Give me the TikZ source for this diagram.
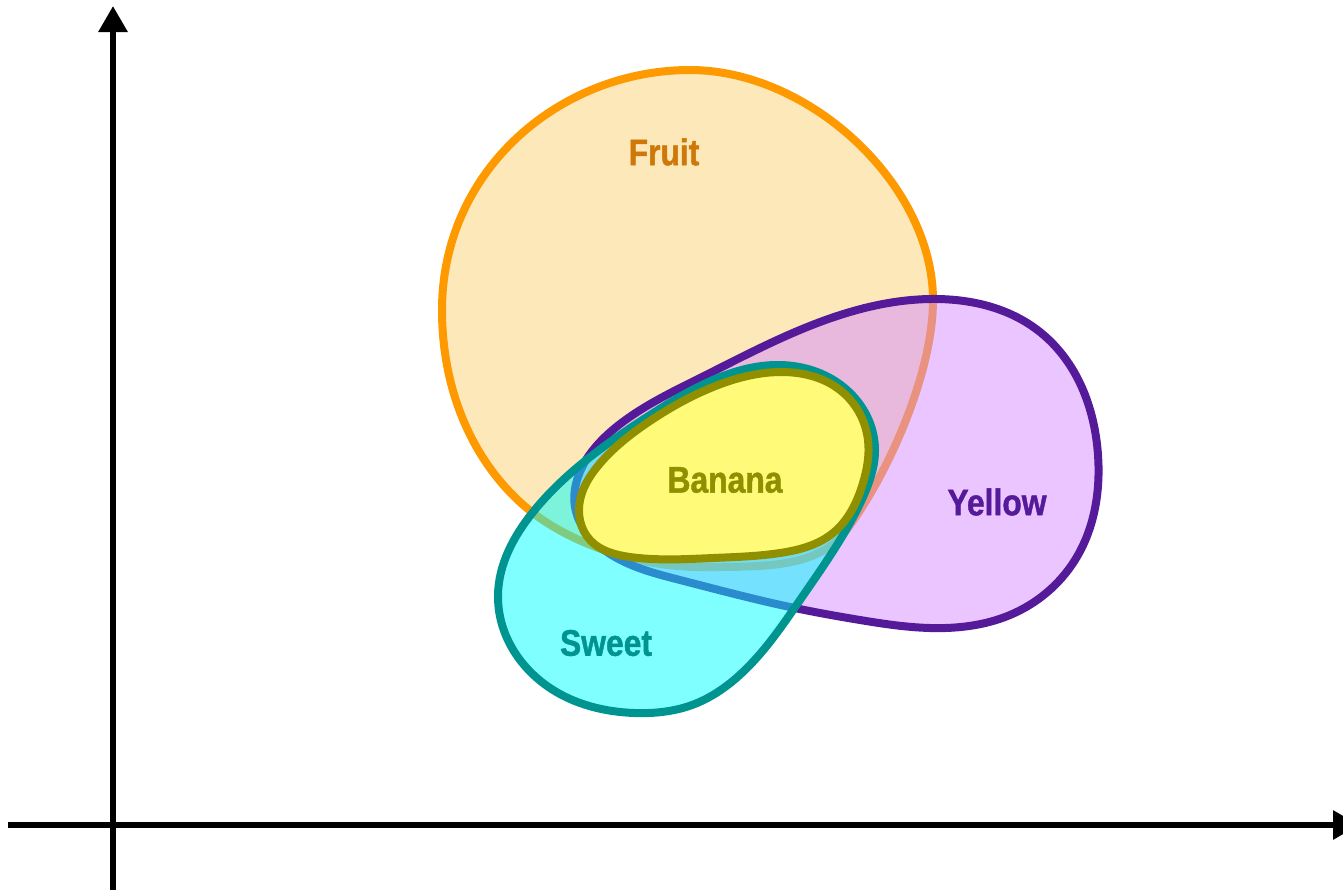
\documentclass[tikz,border=0pt]{standalone}
\usepackage{fontspec}
\setmainfont{Liberation Sans}
\newfontfamily\lblfont[FakeBold=1.3]{Liberation Sans Bold}
\usetikzlibrary{arrows.meta,hobby}
\definecolor{fruitfill}{RGB}{253,232,186}
\definecolor{fruitline}{RGB}{255,153,0}
\definecolor{fruittext}{RGB}{206,120,8}
\definecolor{yelfill}{RGB}{213,140,255}
\definecolor{yelline}{RGB}{85,26,153}
\definecolor{sweetfill}{RGB}{0,255,255}
\definecolor{sweetline}{RGB}{0,148,144}
\definecolor{banfill}{RGB}{255,250,120}
\definecolor{banline}{RGB}{143,143,0}
\begin{document}
\begin{tikzpicture}[x=0.5pt,y=-0.5pt,
  outline/.style={line width=4pt,line join=round},
  blob/.style={outline,use Hobby shortcut,closed=true},
  lbl/.style={font=\fontsize{18.5}{20}\lblfont,inner sep=0pt},
  axis/.style={line width=3pt,-{Triangle[length=13pt,width=14pt]}}]
\useasboundingbox (0,0) rectangle (1343,890);
% axes
\coordinate (ybot) at (113,890);
\coordinate (ytop) at (113,6);
\coordinate (xleft) at (8,825);
\coordinate (xright) at (1359,825);
\draw[axis] (ybot) -- (ytop);
\draw[axis] (xleft) -- (xright);
% Fruit
\draw[outline,fill=fruitfill,draw=fruitline]
  (690,70) .. controls (810,70) and (933,185) .. (933,300)
  .. controls (933,380) and (880,490) .. (840,538)
  .. controls (810,568) and (760,567) .. (700,567)
  .. controls (640,567) and (575,545) .. (533,513)
  .. controls (480,472) and (442,400) .. (442,310)
  .. controls (442,170) and (560,70) .. (690,70) -- cycle;
% Yellow
\draw[blob,fill=yelfill,fill opacity=0.5,draw=yelline]
  (577,480) .. (615,428) .. (700,378) .. (820,322) .. (930,299) .. (1040,332)
  .. (1098,455) .. (1075,560) .. (1010,615) .. (930,628) .. (860,620)
  .. (790,607) .. (680,580) .. (607,552) .. (575,507);
% Sweet
\draw[blob,fill=sweetfill,fill opacity=0.5,draw=sweetline]
  (635,713) .. (550,688) .. (498,595) .. (533,512) .. (590,457) .. (647,417)
  .. (713,380) .. (780,365) .. (847,390) .. (875,450) .. (863,497)
  .. (840,540) .. (800,600) .. (745,670) .. (692,705);
% Banana
\draw[blob,fill=banfill,draw=banline]
  (580,500) .. (597,467) .. (647,423) .. (713,387) .. (780,372) .. (840,390)
  .. (868,440) .. (863,483) .. (833,533) .. (780,553) .. (713,558)
  .. (630,557) .. (590,540);
% labels
\node[lbl,text=fruittext] (fruitlbl) at (664,152) {\scalebox{0.86}[1]{Fruit}};
\node[lbl,text=yelline] (yellowlbl) at (997,502) {\scalebox{0.86}[1]{Yellow}};
\node[lbl,text=sweetline] (sweetlbl) at (606,643) {\scalebox{0.86}[1]{Sweet}};
\node[lbl,text=banline] (bananalbl) at (725,480) {\scalebox{0.86}[1]{Banana}};
\end{tikzpicture}
\end{document}
